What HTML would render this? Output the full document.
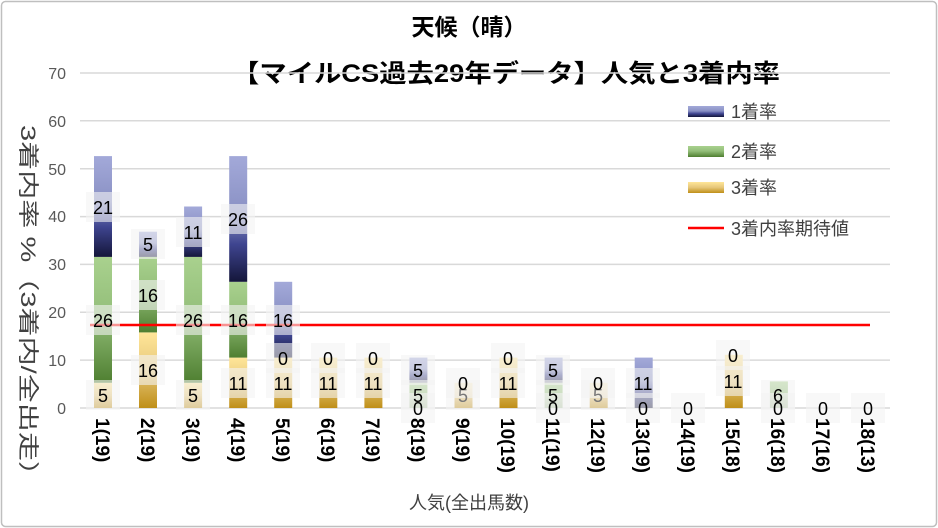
<!DOCTYPE html>
<html><head><meta charset="utf-8"><style>
body{margin:0;background:#fff}
svg{display:block;font-family:"Liberation Sans","Noto Sans CJK JP",sans-serif}
</style></head><body>
<svg width="938" height="528" viewBox="0 0 938 528">
<defs>
<linearGradient id="gb" x1="0" y1="0" x2="0" y2="1"><stop offset="0" stop-color="#a3a9d9"/><stop offset="0.45" stop-color="#8a91c4"/><stop offset="0.7" stop-color="#3f4590"/><stop offset="1" stop-color="#14163a"/></linearGradient>
<linearGradient id="gg" x1="0" y1="0" x2="0" y2="1"><stop offset="0" stop-color="#a9d18e"/><stop offset="0.45" stop-color="#94bf7a"/><stop offset="1" stop-color="#4f7f31"/></linearGradient>
<linearGradient id="gy" x1="0" y1="0" x2="0" y2="1"><stop offset="0" stop-color="#ffe699"/><stop offset="0.5" stop-color="#e6c77a"/><stop offset="1" stop-color="#bf8f18"/></linearGradient>
</defs>
<rect x="1.5" y="1.5" width="935" height="525" rx="4" fill="#fff" stroke="#bfbfbf" stroke-width="1.5"/>
<g font-weight="bold" text-anchor="middle" fill="#000">
<text x="469" y="35" font-size="23">天候（晴）</text>
<text x="506" y="82" font-size="25" textLength="548" lengthAdjust="spacingAndGlyphs">【マイルCS過去29年データ】人気と3着内率</text>
</g>
<g stroke="#d9d9d9" stroke-width="1.5">
<line x1="80" y1="408" x2="890" y2="408"/><line x1="80" y1="360.1" x2="890" y2="360.1"/><line x1="80" y1="312.3" x2="890" y2="312.3"/><line x1="80" y1="264.4" x2="890" y2="264.4"/><line x1="80" y1="216.6" x2="890" y2="216.6"/><line x1="80" y1="168.7" x2="890" y2="168.7"/><line x1="80" y1="120.8" x2="890" y2="120.8"/><line x1="80" y1="73" x2="890" y2="73"/>
</g>
<g font-size="16" text-anchor="end" fill="#595959">
<text x="66" y="414">0</text><text x="66" y="366">10</text><text x="66" y="318">20</text><text x="66" y="270">30</text><text x="66" y="222">40</text><text x="66" y="175">50</text><text x="66" y="127">60</text><text x="66" y="79">70</text>
</g>
<g>
<rect x="94" y="382.8" width="18" height="25.2" fill="url(#gy)"/><rect x="94" y="256.9" width="18" height="125.9" fill="url(#gg)"/><rect x="94" y="156.1" width="18" height="100.8" fill="url(#gb)"/>
<rect x="139" y="332.4" width="18" height="75.6" fill="url(#gy)"/><rect x="139" y="256.9" width="18" height="75.5" fill="url(#gg)"/><rect x="139" y="231.7" width="18" height="25.2" fill="url(#gb)"/>
<rect x="184.1" y="382.8" width="18" height="25.2" fill="url(#gy)"/><rect x="184.1" y="256.9" width="18" height="125.9" fill="url(#gg)"/><rect x="184.1" y="206.5" width="18" height="50.4" fill="url(#gb)"/>
<rect x="229.2" y="357.6" width="18" height="50.4" fill="url(#gy)"/><rect x="229.2" y="281.8" width="18" height="75.8" fill="url(#gg)"/><rect x="229.2" y="156.1" width="18" height="125.7" fill="url(#gb)"/>
<rect x="274.2" y="357.6" width="18" height="50.4" fill="url(#gy)"/><rect x="274.2" y="281.8" width="18" height="75.8" fill="url(#gb)"/>
<rect x="319.3" y="357.6" width="18" height="50.4" fill="url(#gy)"/>
<rect x="364.4" y="357.6" width="18" height="50.4" fill="url(#gy)"/>
<rect x="409.4" y="382.8" width="18" height="25.2" fill="url(#gg)"/><rect x="409.4" y="357.6" width="18" height="25.2" fill="url(#gb)"/>
<rect x="454.5" y="382.8" width="18" height="25.2" fill="url(#gy)"/>
<rect x="499.5" y="357.6" width="18" height="50.4" fill="url(#gy)"/>
<rect x="544.6" y="382.8" width="18" height="25.2" fill="url(#gg)"/><rect x="544.6" y="357.6" width="18" height="25.2" fill="url(#gb)"/>
<rect x="589.7" y="382.8" width="18" height="25.2" fill="url(#gy)"/>
<rect x="634.7" y="357.6" width="18" height="50.4" fill="url(#gb)"/>
<rect x="724.8" y="354.8" width="18" height="53.2" fill="url(#gy)"/>
<rect x="769.9" y="381.4" width="18" height="26.6" fill="url(#gg)"/>
</g>
<line x1="90" y1="325" x2="870" y2="325" stroke="#ff0000" stroke-width="2.5"/>
<g font-size="18" text-anchor="middle" fill="#000">
<g fill="#f4f4f4" fill-opacity="0.6">
<rect x="86" y="380" width="34" height="30"/><rect x="86" y="305" width="34" height="30"/><rect x="86" y="192" width="34" height="30"/>
<rect x="131" y="355" width="34" height="30"/><rect x="131" y="280" width="34" height="30"/><rect x="131" y="229" width="34" height="30"/>
<rect x="176" y="380" width="34" height="30"/><rect x="176" y="305" width="34" height="30"/><rect x="176" y="217" width="34" height="30"/>
<rect x="221" y="368" width="34" height="30"/><rect x="221" y="305" width="34" height="30"/><rect x="221" y="204" width="34" height="30"/>
<rect x="266" y="368" width="34" height="30"/><rect x="266" y="343" width="34" height="30"/><rect x="266" y="305" width="34" height="30"/>
<rect x="311" y="368" width="34" height="30"/><rect x="311" y="343" width="34" height="30"/>
<rect x="356" y="368" width="34" height="30"/><rect x="356" y="343" width="34" height="30"/>
<rect x="401" y="393" width="34" height="30"/><rect x="401" y="380" width="34" height="30"/><rect x="401" y="355" width="34" height="30"/>
<rect x="446" y="368" width="34" height="30"/><rect x="446" y="380" width="34" height="30"/>
<rect x="491" y="368" width="34" height="30"/><rect x="491" y="343" width="34" height="30"/>
<rect x="536" y="393" width="34" height="30"/><rect x="536" y="380" width="34" height="30"/><rect x="536" y="355" width="34" height="30"/>
<rect x="581" y="368" width="34" height="30"/><rect x="581" y="380" width="34" height="30"/>
<rect x="626" y="368" width="34" height="30"/><rect x="626" y="393" width="34" height="30"/>
<rect x="671" y="393" width="34" height="30"/>
<rect x="716" y="366" width="34" height="30"/><rect x="716" y="340" width="34" height="30"/>
<rect x="761" y="380" width="34" height="30"/><rect x="761" y="393" width="34" height="30"/>
<rect x="806" y="393" width="34" height="30"/><rect x="851" y="393" width="34" height="30"/>
</g>
<text x="103" y="402">5</text><text x="103" y="327">26</text><text x="103" y="214">21</text>
<text x="148" y="377">16</text><text x="148" y="302">16</text><text x="148" y="251">5</text>
<text x="193" y="402">5</text><text x="193" y="327">26</text><text x="193" y="239">11</text>
<text x="238" y="390">11</text><text x="238" y="327">16</text><text x="238" y="226">26</text>
<text x="283" y="390">11</text><text x="283" y="365">0</text><text x="283" y="327">16</text>
<text x="328" y="390">11</text><text x="328" y="365">0</text>
<text x="373" y="390">11</text><text x="373" y="365">0</text>
<text x="418" y="415">0</text><text x="418" y="402">5</text><text x="418" y="377">5</text>
<text x="463" y="402" fill="#777">5</text><text x="463" y="390">0</text>
<text x="508" y="390">11</text><text x="508" y="365">0</text>
<text x="553" y="415">0</text><text x="553" y="402">5</text><text x="553" y="377">5</text>
<text x="598" y="402" fill="#777">5</text><text x="598" y="390">0</text>
<text x="643" y="390">11</text><text x="643" y="415">0</text>
<text x="688" y="415">0</text>
<text x="733" y="388">11</text><text x="733" y="362">0</text>
<text x="778" y="402">6</text><text x="778" y="415">0</text>
<text x="823" y="415">0</text><text x="868" y="415">0</text>
</g>
<g font-size="18" fill="#404040">
<rect x="688" y="106" width="36" height="11" fill="url(#gb)"/><text x="731" y="118">1着率</text>
<rect x="688" y="146" width="36" height="11" fill="url(#gg)"/><text x="731" y="158">2着率</text>
<rect x="688" y="182" width="36" height="11" fill="url(#gy)"/><text x="731" y="194">3着率</text>
<line x1="688" y1="228" x2="724" y2="228" stroke="#ff0000" stroke-width="2.5"/><text x="731" y="235">3着内率期待値</text>
</g>
<g font-size="19" font-weight="bold" fill="#000">
<text transform="translate(96,418) rotate(90)">1(19)</text>
<text transform="translate(141,418) rotate(90)">2(19)</text>
<text transform="translate(186,418) rotate(90)">3(19)</text>
<text transform="translate(231,418) rotate(90)">4(19)</text>
<text transform="translate(276,418) rotate(90)">5(19)</text>
<text transform="translate(321,418) rotate(90)">6(19)</text>
<text transform="translate(366,418) rotate(90)">7(19)</text>
<text transform="translate(411,418) rotate(90)">8(19)</text>
<text transform="translate(456,418) rotate(90)">9(19)</text>
<text transform="translate(501,418) rotate(90)">10(19)</text>
<text transform="translate(546,418) rotate(90)">11(19)</text>
<text transform="translate(591,418) rotate(90)">12(19)</text>
<text transform="translate(636,418) rotate(90)">13(19)</text>
<text transform="translate(681,418) rotate(90)">14(19)</text>
<text transform="translate(726,418) rotate(90)">15(18)</text>
<text transform="translate(771,418) rotate(90)">16(18)</text>
<text transform="translate(816,418) rotate(90)">17(16)</text>
<text transform="translate(861,418) rotate(90)">18(13)</text>
</g>
<text x="469" y="509" font-size="18" text-anchor="middle" fill="#404040">人気(全出馬数)</text>
<text transform="translate(21,125) rotate(90)" font-size="21" fill="#404040" textLength="365" lengthAdjust="spacingAndGlyphs">3着内率 %（3着内/全出走）</text>
</svg>
</body></html>
